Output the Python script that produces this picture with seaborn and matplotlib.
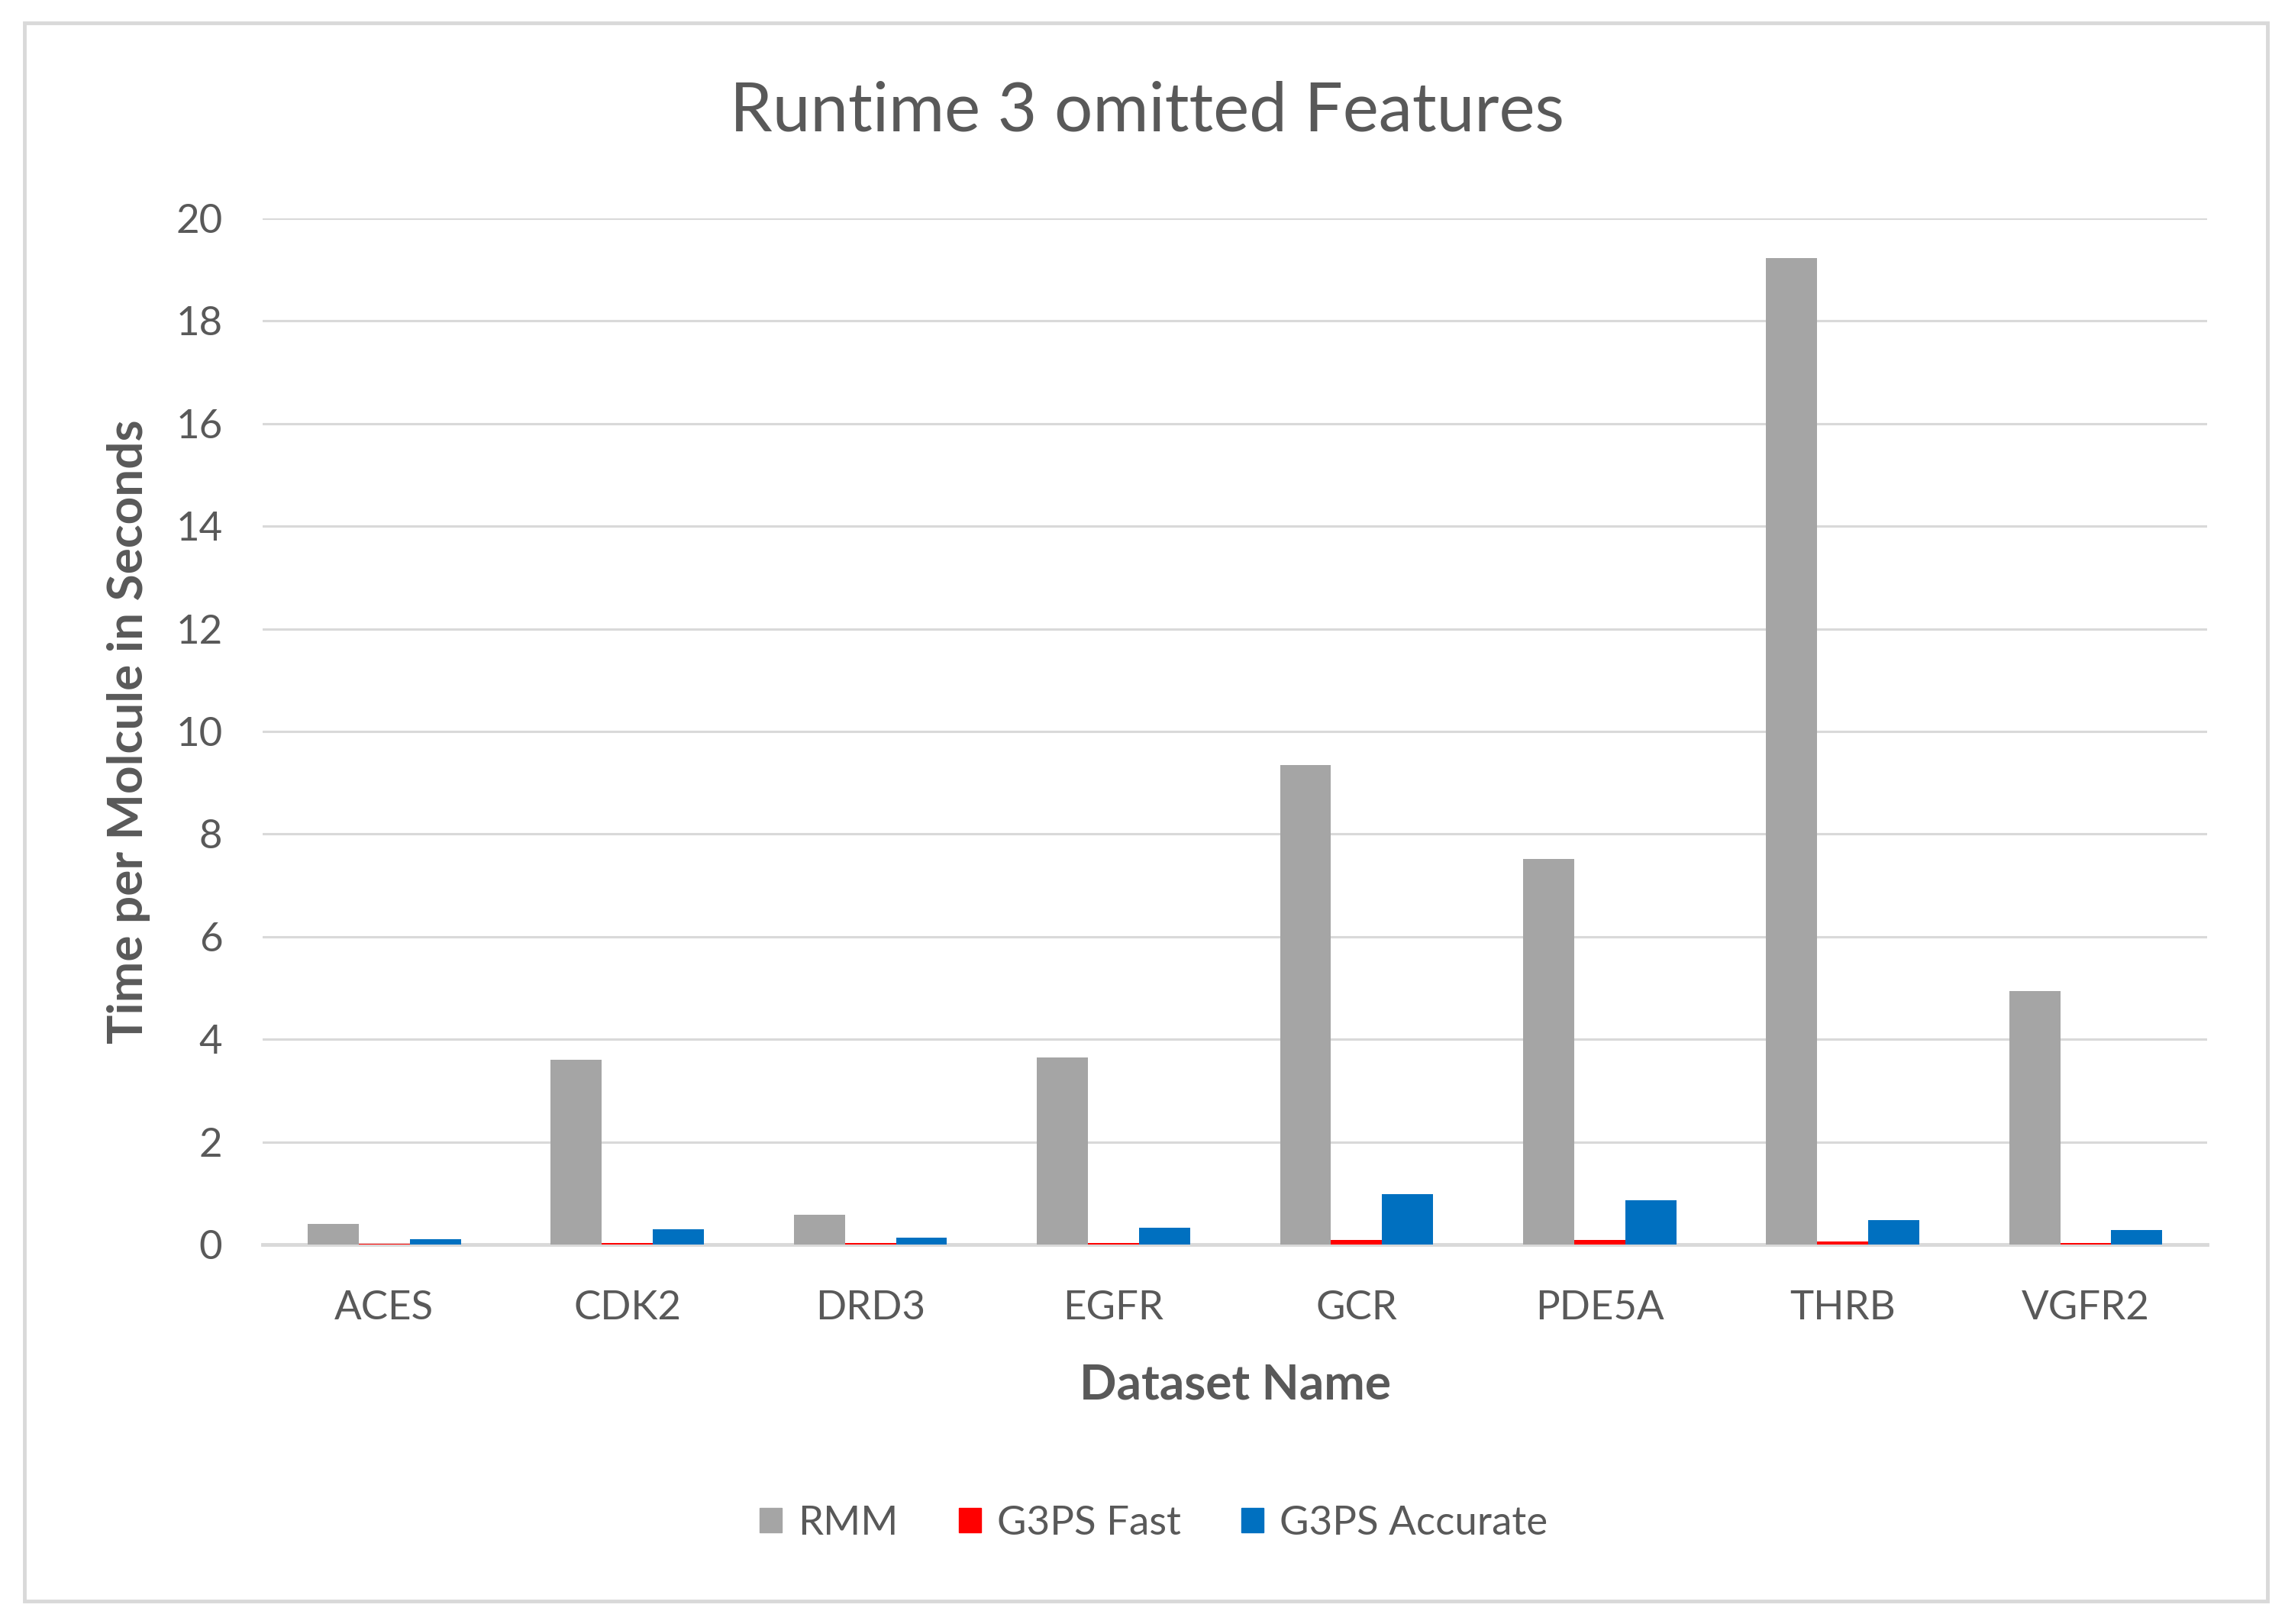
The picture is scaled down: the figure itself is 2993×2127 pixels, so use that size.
import pandas as pd
import matplotlib.pyplot as plt
import seaborn as sns
from matplotlib.patches import Rectangle

# ============================
# Data
# ============================

datasets = ['ACES', 'CDK2', 'DRD3', 'EGFR', 'GCR', 'PDE5A', 'THRB', 'VGFR2']
series_names = ['RMM', 'G3PS Fast', 'G3PS Accurate']

rmm = [0.40, 3.60, 0.58, 3.65, 9.34, 7.52, 19.23, 4.94]
g3ps_fast = [0.01, 0.03, 0.03, 0.03, 0.085, 0.085, 0.055, 0.03]
g3ps_accurate = [0.10, 0.29, 0.13, 0.32, 0.98, 0.86, 0.47, 0.28]

colors = ['#A5A5A5', '#FF0000', '#0070C0']

df = pd.DataFrame({
    'Dataset': datasets * 3,
    'Series': [s for s in series_names for _ in datasets],
    'Time': rmm + g3ps_fast + g3ps_accurate,
})

# ============================
# Style
# ============================

sns.set_theme(style='white')
plt.rcParams['font.family'] = ['Lato', 'DejaVu Sans']
text_color = '#595959'
grid_color = '#D9D9D9'

fig = plt.figure(figsize=(29.93, 21.27), dpi=100)
ax = fig.add_axes([0.115, 0.2337, 0.851, 0.6318])

sns.barplot(
    data=df, x='Dataset', y='Time', hue='Series',
    order=datasets, hue_order=series_names,
    palette=colors, width=0.63, saturation=1,
    errorbar=None, ax=ax, zorder=3, linewidth=0,
)

ax.set_ylim(0, 20)
ax.set_yticks(range(0, 21, 2))
ax.set_xlim(-0.5, len(datasets) - 0.5)
ax.yaxis.grid(True, color=grid_color, linewidth=2.2, zorder=0)
ax.set_axisbelow(True)

for side in ['left', 'right', 'top']:
    ax.spines[side].set_visible(False)
ax.spines['bottom'].set_color(grid_color)
ax.spines['bottom'].set_linewidth(3.5)
ax.spines['bottom'].set_zorder(2)

ax.tick_params(axis='both', length=0, labelsize=38, labelcolor=text_color)
ax.tick_params(axis='y', pad=38)
ax.tick_params(axis='x', pad=43)

ax.set_xlabel('Dataset Name', fontsize=46, fontweight='bold', color=text_color, labelpad=35)
ax.set_ylabel('Time per Molcule in Seconds', fontsize=46, fontweight='bold', color=text_color, labelpad=24)

fig.suptitle('Runtime 3 omitted Features', fontsize=64, color=text_color,
             y=0.931, x=0.502, va='center')

# legend at the bottom
ax.get_legend().remove()
handles = [Rectangle((0, 0), 1, 1, color=c) for c in colors]
fig.legend(
    handles, series_names, loc='center', bbox_to_anchor=(0.505, 0.062),
    ncol=3, frameon=False, fontsize=38, labelcolor=text_color,
    handlelength=0.55, handleheight=0.55, handletextpad=0.4, columnspacing=1.5,
)

# chart border
fig.patches.append(Rectangle(
    (32 / 2993, 1 - 2097 / 2127), (2970 - 32) / 2993, (2097 - 30) / 2127,
    transform=fig.transFigure, fill=False, edgecolor=grid_color, linewidth=3.5,
))

plt.savefig('out.png', dpi=100)
